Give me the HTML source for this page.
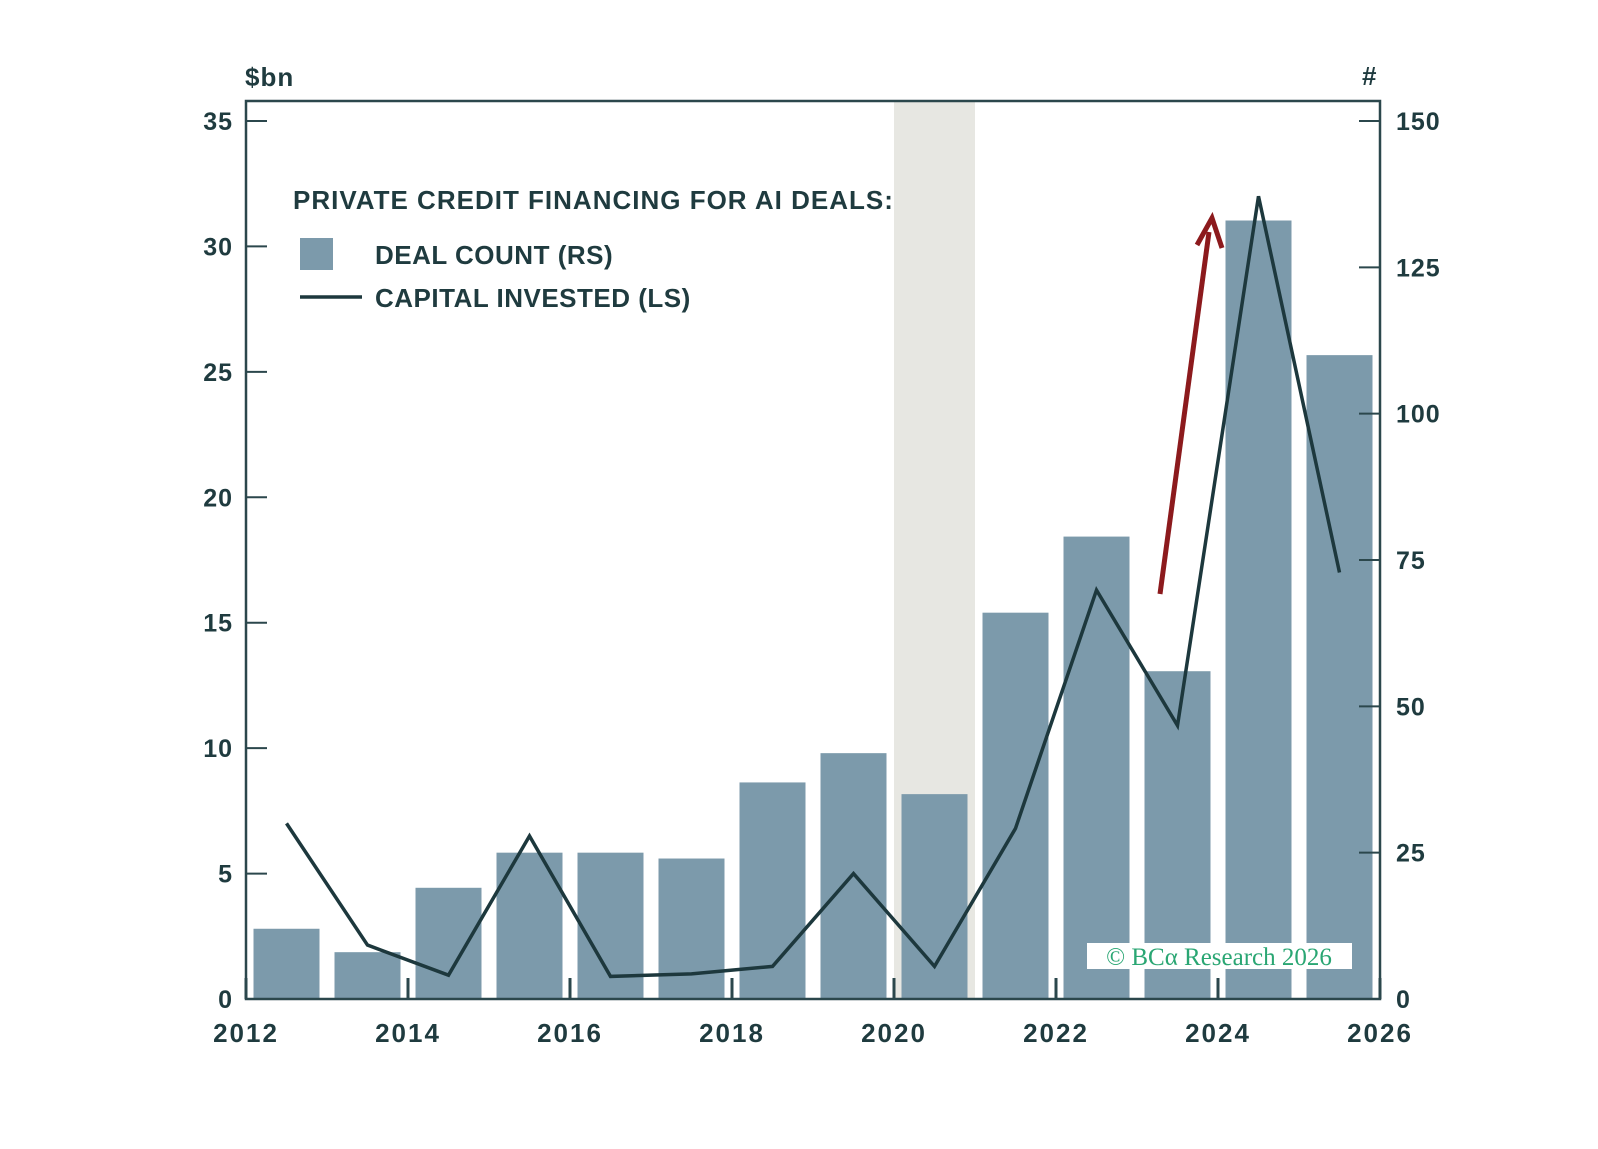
<!DOCTYPE html>
<html><head><meta charset="utf-8"><style>
html,body{margin:0;padding:0;background:#fff;}
svg text{font-family:"Liberation Sans",sans-serif;font-weight:bold;fill:#1f3b3f;}
</style></head><body>
<svg id="chart" width="1598" height="1144" viewBox="0 0 1598 1144" xmlns="http://www.w3.org/2000/svg">
<g id="g"></g>
</svg>
<script>
const years = [2012.5,2013.5,2014.5,2015.5,2016.5,2017.5,2018.5,2019.5,2020.5,2021.5,2022.5,2023.5,2024.5,2025.5];
const dealCount = [12,8,19,25,25,24,37,42,35,66,79,56,133,110];
const capital = [7.0,2.15,0.95,6.5,0.9,1.0,1.3,5.0,1.3,6.8,16.3,10.9,32.0,17.0];
const leftTicks = [0,5,10,15,20,25,30,35];
const rightTicks = [0,25,50,75,100,125,150];
const xTicks = [2012,2014,2016,2018,2020,2022,2024,2026];
const shadeRange = [2020,2021];

const X0=246,X1=1380,Y0=999,TOP=101;
const x = v => X0+(v-2012)*(X1-X0)/14;
const yL = v => Y0 - v*(Y0-121)/35;
const yR = v => Y0 - v*(Y0-121)/150;
const NS="http://www.w3.org/2000/svg";
const g=document.getElementById('g');
function el(t,a,txt){const e=document.createElementNS(NS,t);for(const k in a)e.setAttribute(k,a[k]);if(txt!=null)e.textContent=txt;g.appendChild(e);return e;}
const AX="#2b474c";

let e;
e=el('rect',{x:x(shadeRange[0]),y:TOP,width:x(shadeRange[1])-x(shadeRange[0]),height:Y0-TOP,fill:'#e7e7e2'});



years.forEach((yr,i)=>{
  const b=el('rect',{x:x(yr)-33,y:yR(dealCount[i]),width:66,height:Y0-yR(dealCount[i]),fill:'#7c9aab'});
  
  
});

e=el('rect',{x:1087,y:943,width:265,height:26,fill:'#fff'});


e=el('text',{x:1219,y:965,'text-anchor':'middle','font-size':'25',style:'font-family:"Liberation Serif",serif;font-weight:normal;fill:#2aa673'},'© BCα Research 2026');



e=el('rect',{x:X0,y:TOP,width:X1-X0,height:Y0-TOP,fill:'none',stroke:AX,'stroke-width':2.5});



leftTicks.forEach(v=>{
  const t=el('line',{x1:X0,x2:X0+21,y1:yL(v),y2:yL(v),stroke:AX,'stroke-width':2});
  
  
  const l=el('text',{x:233,y:yL(v)+9,'text-anchor':'end','font-size':'25','letter-spacing':'1'},v);
  
  
});
rightTicks.forEach(v=>{
  const t=el('line',{x1:X1-21,x2:X1,y1:yR(v),y2:yR(v),stroke:AX,'stroke-width':2});
  
  
  const l=el('text',{x:1396,y:yR(v)+9,'text-anchor':'start','font-size':'25','letter-spacing':'1'},v);
  
  
});
xTicks.forEach(v=>{
  const t=el('line',{x1:x(v),x2:x(v),y1:Y0,y2:Y0-21,stroke:AX,'stroke-width':3});
  
  
  const l=el('text',{x:x(v),y:1042,'text-anchor':'middle','font-size':'26','letter-spacing':'2'},v);
  
  
});

e=el('polyline',{points:years.map((yr,i)=>x(yr)+','+yL(capital[i])).join(' '),fill:'none',stroke:'#1d383d','stroke-width':3.5,'stroke-linejoin':'miter'});



e=el('line',{x1:1160,y1:594,x2:1209,y2:232,stroke:'#8c1a1d','stroke-width':5});


e=el('polyline',{points:'1197,245 1212,218 1222,248',fill:'none',stroke:'#8c1a1d','stroke-width':5});



e=el('text',{x:245,y:86,'font-size':'26','letter-spacing':'1'},'$bn');


e=el('text',{x:1362,y:85,'font-size':'26'},'#');



e=el('text',{x:293,y:209,'font-size':'26','letter-spacing':'1'},'PRIVATE CREDIT FINANCING FOR AI DEALS:');


e=el('rect',{x:300,y:238,width:33,height:32,fill:'#7c9aab'});


e=el('text',{x:375,y:264,'font-size':'26','letter-spacing':'0.5'},'DEAL COUNT (RS)');


e=el('line',{x1:300,x2:362,y1:297,y2:297,stroke:'#1d383d','stroke-width':3.5});


e=el('text',{x:375,y:307,'font-size':'26','letter-spacing':'0.5'},'CAPITAL INVESTED (LS)');


</script>
</body></html>
